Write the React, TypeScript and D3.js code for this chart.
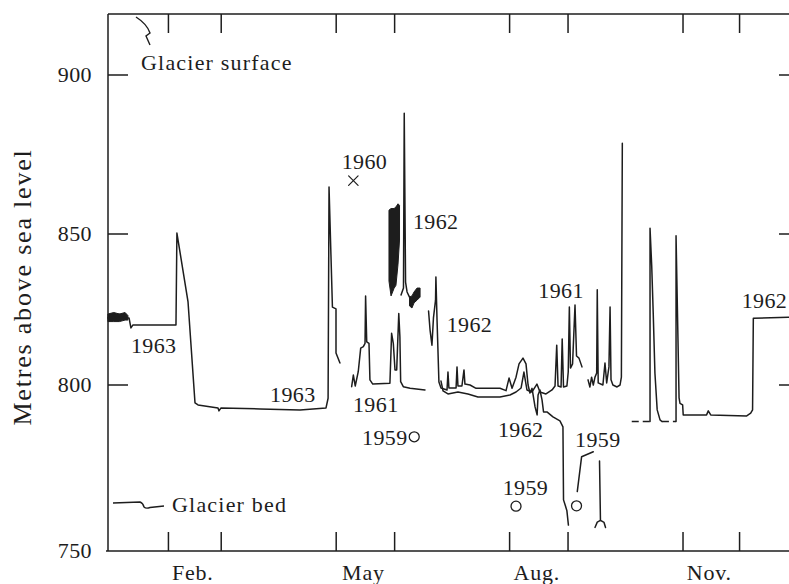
import React from 'react';
import * as d3 from 'd3';

const W = 789;
const H = 584;

// x: day of year (1 Jan = 0), y: metres above sea level
const monthStarts = [0, 31, 59, 90, 120, 151, 181, 212, 243, 273, 304, 334, 365];
const tickMonthIdx = [1, 2, 4, 5, 7, 8, 10, 11];
const monthLabels = [
  { name: 'Feb.', m: 1 },
  { name: 'May', m: 4 },
  { name: 'Aug.', m: 7 },
  { name: 'Nov.', m: 10 },
];
const yTickValues = [800, 850, 900];
const yLabelValues = [750, 800, 850, 900];

// 1963 record (Jan - early May)
const seg1963: [number, number][] = [
  [-1.1, 822.2], [0.5, 823.5], [1.6, 822.2], [2.7, 823.2], [3.7, 822.2], [4.8, 823.5], [5.8, 822.2],
  [6.9, 823.2], [8.0, 822.2], [10.1, 822.2], [11.1, 818.9], [12.2, 819.9], [35.0, 819.9], [35.5, 850.3],
  [36.1, 848.0], [41.4, 827.5], [45.1, 794.6], [46.7, 794.0], [57.3, 793.1], [57.8, 792.2], [58.9, 793.1],
  [79.6, 792.8], [100.8, 792.5], [114.6, 793.1], [115.7, 796.0], [116.2, 864.8], [118.0, 825.8],
  [119.9, 825.2], [119.9, 810.6], [122.0, 807.3],
];
// 1961 record (May - June)
const seg1961May: [number, number][] = [
  [128.2, 799.5], [129.1, 803.3], [130.1, 799.7], [131.7, 804.4], [133.0, 812.2], [134.4, 812.7],
  [135.3, 813.8], [135.6, 829.5], [136.2, 814.3], [137.4, 813.8], [137.9, 801.7], [139.4, 800.3],
  [148.5, 800.6], [149.4, 817.1], [150.3, 813.8], [151.2, 805.0], [152.1, 805.0], [153.2, 823.7],
  [153.8, 816.0], [154.2, 801.1], [155.6, 799.5], [159.2, 799.0], [167.1, 798.5],
];
// 1962 record (late May): dense oscillation shown as a high/low band, then a spike
const band1962: [number, number, number][] = [
  [148.0, 857.5, 834.4], [149.1, 858.0, 829.5], [150.7, 858.0, 832.0], [151.7, 858.5, 833.0],
  [152.8, 859.5, 840.0], [153.6, 859.0, 848.0],
];
const seg1962May: [number, number][] = [
  [154.4, 829.8], [155.7, 832.1], [156.1, 888.0], [156.8, 834.1], [157.6, 830.8], [158.9, 829.1],
];
const blob1962: [number, number, number][] = [
  [158.9, 829.1, 826.2], [160.2, 829.5, 825.5], [161.3, 830.8, 827.2], [162.9, 832.1, 828.1],
  [164.5, 832.1, 829.1],
];
const band1963: [number, number, number][] = [
  [-1.1, 823.5, 821.0], [2.0, 824.0, 821.0], [5.0, 823.5, 821.0], [8.0, 824.0, 821.5], [9.5, 823.0, 821.5],
];
// 1962 record (June - August)
const seg1962Jun: [number, number][] = [
  [169.0, 824.5], [169.8, 818.2], [170.8, 813.2], [171.6, 822.2], [172.7, 828.1], [172.9, 835.8],
  [173.5, 821.5], [174.5, 801.0], [175.6, 799.1], [178.8, 798.5], [179.3, 804.3], [179.8, 799.1],
  [183.6, 799.1], [184.1, 806.0], [184.6, 799.7], [186.7, 799.7], [187.8, 805.0], [188.3, 800.3],
  [191.0, 800.0], [194.2, 799.0], [206.9, 799.0], [210.1, 798.3], [211.7, 802.3], [213.3, 799.0],
  [215.4, 802.6], [217.0, 807.0], [219.1, 808.9], [220.7, 807.0], [221.8, 800.0], [222.8, 797.6],
  [223.9, 799.0], [225.5, 793.4], [226.6, 791.0], [227.1, 797.0], [228.1, 798.5], [229.2, 795.5],
  [230.0, 791.9], [231.8, 791.9], [235.0, 790.4], [238.7, 789.2], [240.3, 787.4], [240.6, 765.4],
  [241.6, 763.6], [242.4, 762.1], [243.2, 757.8],
];
// 1961 record (June - September)
const seg1961Jul: [number, number][] = [
  [175.6, 801.3], [176.7, 798.2], [179.3, 797.3], [184.6, 797.9], [189.9, 797.3], [195.2, 796.4],
  [206.9, 796.4], [212.2, 797.0], [215.4, 797.9], [218.1, 799.1], [219.6, 804.3], [221.2, 798.5],
  [223.9, 797.9], [226.5, 800.3], [228.1, 797.9], [231.3, 797.3], [234.5, 798.5], [236.1, 799.7],
  [237.0, 813.2], [237.7, 799.7], [239.3, 799.4], [239.9, 815.2], [240.6, 799.4], [242.4, 799.7],
  [243.1, 804.3], [243.7, 825.8], [244.3, 805.6], [245.4, 807.0], [246.7, 826.5], [247.5, 809.6],
  [248.8, 808.9], [250.4, 806.0],
];
const seg1961Aug: [number, number][] = [
  [253.6, 801.7], [254.6, 799.4], [255.5, 802.6], [256.4, 800.0], [257.3, 802.6], [258.2, 804.0],
  [258.5, 831.5], [259.0, 800.7], [261.5, 800.0], [262.6, 807.3], [263.5, 800.7], [264.7, 806.0],
  [265.3, 825.8], [265.8, 801.7], [266.8, 800.0], [269.0, 799.4], [270.6, 800.0], [271.3, 802.6],
  [271.8, 878.5],
];
// 1959 fragments
const seg1959a: [number, number][] = [[256.4, 779.9], [250.2, 778.4], [247.9, 767.9]];
const seg1959b: [number, number][] = [[259.7, 777.1], [260.2, 759.2]];
const seg1959c: [number, number][] = [
  [257.3, 757.1], [258.5, 758.7], [260.2, 759.2], [262.1, 758.6], [262.9, 757.1],
];
// autumn records
const segDash1: [number, number][] = [[276.8, 789.0], [286.5, 789.0]];
const segDash2: [number, number][] = [[292.8, 789.0], [300.3, 789.0]];
const segAutumn1: [number, number][] = [
  [286.5, 789.0], [286.5, 851.8], [287.4, 839.3], [288.2, 823.7], [289.1, 803.9], [290.3, 792.5],
  [291.8, 789.5], [292.8, 789.0],
];
const segAutumn2: [number, number][] = [
  [300.3, 789.0], [300.3, 849.4], [301.9, 796.1], [302.4, 794.5], [303.8, 794.0], [304.1, 791.0],
  [316.5, 791.0], [317.4, 792.2], [318.7, 791.0], [337.8, 790.7], [339.9, 791.5], [340.9, 792.5],
  [341.3, 822.1], [359.8, 822.4], [365.0, 822.4],
];

const solidSegments = [seg1963, seg1961May, seg1962May, seg1962Jun, seg1961Jul, seg1961Aug,
  seg1959a, seg1959b, seg1959c, segAutumn1, segAutumn2];
const dashedSegments = [segDash1, segDash2];
const bands = [band1963, band1962, blob1962];

const circles1959: [number, number][] = [[161.4, 784.4], [215.4, 763.5], [247.5, 763.6]];
const cross1960: [number, number][] = [[129.1, 866.8]];

const yearLabels = [
  { t: '1963', d: 11.1, v: 810.6 },
  { t: '1963', d: 84.9, v: 795.0 },
  { t: '1960', d: 122.9, v: 870.3 },
  { t: '1962', d: 160.7, v: 851.6 },
  { t: '1961', d: 128.9, v: 792.0 },
  { t: '1959', d: 133.7, v: 781.9 },
  { t: '1962', d: 178.6, v: 817.6 },
  { t: '1961', d: 227.2, v: 828.8 },
  { t: '1962', d: 205.8, v: 784.4 },
  { t: '1959', d: 208.3, v: 766.9 },
  { t: '1959', d: 246.7, v: 781.4 },
  { t: '1962', d: 335.1, v: 825.4 },
];

const FONT = '"Liberation Serif", "Times New Roman", serif';
const INK = '#1d1d1d';

export default function App() {
  const left = 108;
  const top = 14;
  const bottom = 551;
  const right = 789;

  const x = d3.scaleLinear().domain([0, 365]).range([110, 798]);
  const y = d3.scaleLinear().domain([750, 800, 850, 900]).range([551, 385, 234, 75]);

  const line = d3.line<[number, number]>().x((p) => x(p[0])).y((p) => y(p[1]));
  const area = d3
    .area<[number, number, number]>()
    .x((p) => x(p[0]))
    .y0((p) => y(p[2]))
    .y1((p) => y(p[1]));
  const crossPath = d3.symbol().type(d3.symbolX).size(60)() || '';

  return (
    <svg
      width={W}
      height={H}
      viewBox={`0 0 ${W} ${H}`}
      style={{ position: 'absolute', left: 0, top: 0, background: '#fff' }}
      fontFamily={FONT}
    >
      <rect x={0} y={0} width={W} height={H} fill="#fff" />
      {/* frame */}
      <g stroke={INK} strokeWidth={1.5} fill="none">
        <line x1={left} y1={top} x2={right} y2={top} />
        <line x1={left} y1={top} x2={left} y2={bottom} />
        <line x1={left - 2} y1={bottom} x2={right} y2={bottom} />
        {yTickValues.map((v) => (
          <g key={`yt${v}`}>
            <line x1={left} x2={left + 20} y1={y(v)} y2={y(v)} />
            <line x1={right - 10} x2={right} y1={y(v)} y2={y(v)} />
          </g>
        ))}
        {tickMonthIdx.map((m) => (
          <g key={`xt${m}`}>
            <line x1={x(monthStarts[m])} x2={x(monthStarts[m])} y1={bottom} y2={bottom - 19} />
            <line x1={x(monthStarts[m])} x2={x(monthStarts[m])} y1={top} y2={top + 19} />
          </g>
        ))}
      </g>
      {/* y labels */}
      <g fontSize={22} fill={INK} letterSpacing={0.4}>
        {yLabelValues.map((v) => (
          <text key={`yl${v}`} x={92} y={y(v) + 7} textAnchor="end">
            {v}
          </text>
        ))}
      </g>
      <text
        transform={`translate(31,287) rotate(-90)`}
        textAnchor="middle"
        fontSize={26}
        letterSpacing={1.8}
        fill={INK}
      >
        Metres above sea level
      </text>
      {/* month labels */}
      <g fontSize={22} fill={INK} letterSpacing={0.8}>
        {monthLabels.map((ml) => (
          <text
            key={ml.name}
            x={(x(monthStarts[ml.m]) + x(monthStarts[ml.m + 1])) / 2 - 2}
            y={580}
            textAnchor="middle"
          >
            {ml.name}
          </text>
        ))}
      </g>
      {/* data */}
      <g fill={INK} stroke={INK} strokeWidth={1}>
        {bands.map((b, i) => (
          <path key={`b${i}`} d={area(b) || ''} />
        ))}
      </g>
      <g fill="none" stroke={INK} strokeWidth={1.5} strokeLinejoin="round" strokeLinecap="round">
        {solidSegments.map((s, i) => (
          <path key={`s${i}`} d={line(s) || ''} />
        ))}
        {dashedSegments.map((s, i) => (
          <path key={`d${i}`} d={line(s) || ''} strokeDasharray="7,4" strokeLinecap="butt" />
        ))}
        {circles1959.map((c, i) => (
          <circle key={`c${i}`} cx={x(c[0])} cy={y(c[1])} r={5} strokeWidth={1.3} />
        ))}
        {cross1960.map((c, i) => (
          <path key={`x${i}`} d={crossPath} transform={`translate(${x(c[0])},${y(c[1])})`} strokeWidth={1.2} />
        ))}
      </g>
      {/* year annotations */}
      <g fontSize={22} fill={INK} letterSpacing={0.4}>
        {yearLabels.map((l, i) => (
          <text key={`yr${i}`} x={x(l.d)} y={y(l.v)}>
            {l.t}
          </text>
        ))}
      </g>
      {/* legend glyphs */}
      <g fill="none" stroke={INK} strokeWidth={1.4}>
        <path d="M136,17 Q147,24 150,33 L146,36 L150,45" />
        <path d="M113,503 L140,502 Q143,503 144,507 Q146,509 150,507.5 L164,506" />
      </g>
      <g fontSize={22} fill={INK} letterSpacing={1.2}>
        <text x={141} y={70}>Glacier surface</text>
        <text x={172} y={512}>Glacier bed</text>
      </g>
    </svg>
  );
}
